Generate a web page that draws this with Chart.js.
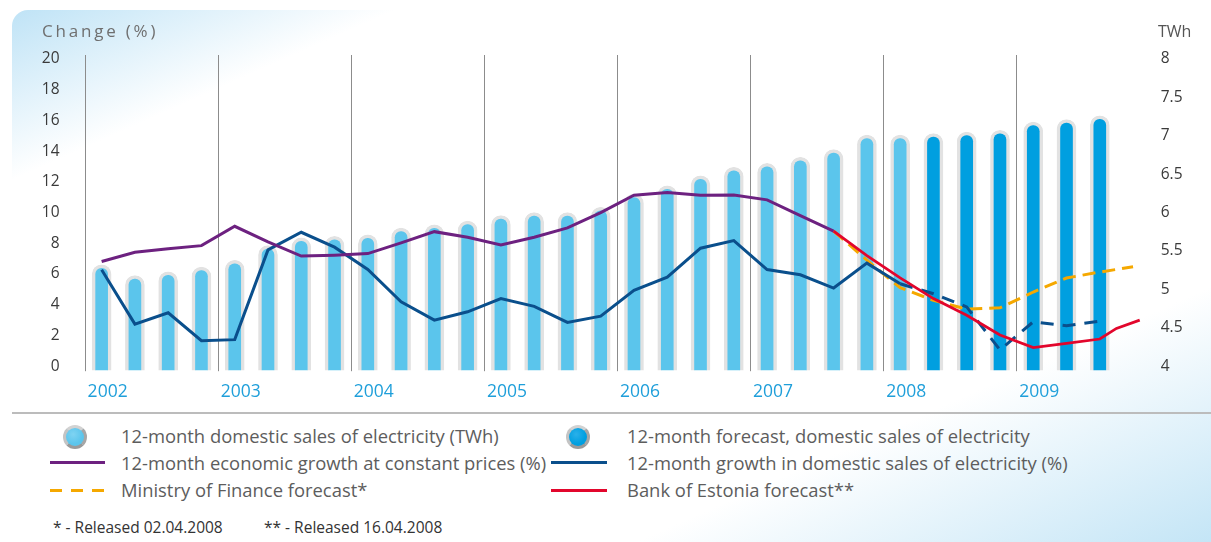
<!DOCTYPE html>
<html>
<head>
<meta charset="utf-8">
<script src="https://cdn.jsdelivr.net/npm/chart.js@4.4.1/dist/chart.umd.min.js"></script>
<style>
  html, body { margin: 0; padding: 0; }
  body {
    width: 1211px; height: 542px; overflow: hidden; position: relative;
    background: #fff; font-family: 'Open Sans', sans-serif;
  }
  .panel {
    position: absolute; left: 12px; top: 10px; right: 0; bottom: 0;
    border-top-left-radius: 16px;
    background: linear-gradient(to bottom right, #bfe3f6 0%, #ffffff 16%, #ffffff 76%, #c4e5f6 100%);
  }
  #chart { position: absolute; left: 0; top: 0; }
  .axis-title { position: absolute; top: 19px; font-size: 17px; color: #6f6f6f; line-height: 24px; }
  .rule { position: absolute; left: 12px; right: 0; top: 412px; height: 2px; background: #bcbcbc; }
  .legend-text { position: absolute; font-size: 18.4px; color: #5d5d5d; line-height: 24px; white-space: nowrap; }
  .note { position: absolute; top: 516px; font-size: 15.5px; color: #333; line-height: 22px; white-space: nowrap; }
  .dot {
    position: absolute; width: 18px; height: 18px; border-radius: 50%;
    border: 3px solid #b8b8b8; border-color: #d2d2d2 #a6a6a6 #9a9a9a #c4c4c4;
  }
  .swatch { position: absolute; height: 3px; }
</style>
</head>
<body>
<div class="panel"></div>
<canvas id="chart" width="1211" height="405"></canvas>
<div class="axis-title" style="left:42px; letter-spacing:2.8px;">Change (%)</div>
<div class="axis-title" style="left:1158px; color:#555; font-size:16px;">TWh</div>
<div class="rule"></div>

<div class="dot" style="left:63px; top:425px; background:radial-gradient(circle at 40% 35%, #7fd3f2, #5bc5ec 60%);"></div>
<div class="legend-text" style="left:121px; top:424px;">12-month domestic sales of electricity (TWh)</div>
<div class="swatch" style="left:50px; width:55px; top:461px; background:#6d2180;"></div>
<div class="legend-text" style="left:121px; top:451px;">12-month economic growth at constant prices (%)</div>
<div class="swatch" style="left:50px; width:54px; top:489px; background:repeating-linear-gradient(90deg, #f5a800 0 12px, transparent 12px 21px);"></div>
<div class="legend-text" style="left:121px; top:478px;">Ministry of Finance forecast*</div>

<div class="dot" style="left:566px; top:425px; background:radial-gradient(circle at 40% 35%, #2ab0ea, #009fe0 60%);"></div>
<div class="legend-text" style="left:627px; top:424px;">12-month forecast, domestic sales of electricity</div>
<div class="swatch" style="left:551px; width:56px; top:461px; background:#0a4f8c;"></div>
<div class="legend-text" style="left:627px; top:451px;">12-month growth in domestic sales of electricity (%)</div>
<div class="swatch" style="left:551px; width:56px; top:489px; background:#e2062c;"></div>
<div class="legend-text" style="left:627px; top:478px;">Bank of Estonia forecast**</div>

<div class="note" style="left:53px;">* - Released 02.04.2008</div>
<div class="note" style="left:264px;">** - Released 16.04.2008</div>

<script>
// quarters 2002 Q1 .. 2009 Q4
const years = [2002, 2003, 2004, 2005, 2006, 2007, 2008, 2009];
const quarterNames = ['Q1', 'Q2', 'Q3', 'Q4'];
const changeTicks = [0, 2, 4, 6, 8, 10, 12, 14, 16, 18, 20];
const twhTicks = [4, 4.5, 5, 5.5, 6, 6.5, 7, 7.5, 8];

// 12-month domestic sales of electricity, TWh (2002 Q1 .. 2008 Q1)
const salesTWh = [5.32, 5.18, 5.23, 5.29, 5.38, 5.57, 5.67, 5.69, 5.71, 5.80, 5.84, 5.89,
  5.96, 6.00, 6.00, 6.07, 6.24, 6.35, 6.48, 6.59, 6.64, 6.72, 6.82, 7.01, 7.01];
// forecast, TWh (2008 Q2 .. 2009 Q3)
const forecastTWh = [7.03, 7.05, 7.07, 7.18, 7.21, 7.26];

// 12-month economic growth, % (2002 Q1 .. 2007 Q3)
const gdpGrowth = [6.82, 7.42, 7.64, 7.85, 9.11, 8.1, 7.17, 7.23, 7.33, 8.03, 8.76, 8.4,
  7.9, 8.4, 9.0, 10.0, 11.13, 11.31, 11.13, 11.15, 10.83, 9.8, 8.8];
// growth in domestic electricity sales, % (2002 Q1 .. 2008 Q1), then forecast to 2009 Q3
const salesGrowth = [6.28, 2.74, 3.48, 1.66, 1.73, 7.57, 8.72, 7.75, 6.3, 4.19, 3.0, 3.54,
  4.40, 3.90, 2.85, 3.26, 4.94, 5.80, 7.68, 8.18, 6.29, 5.95, 5.09, 6.71, 5.37];
const salesGrowthForecast = [5.37, 4.72, 3.86, 1.06, 2.89, 2.63, 2.93];
// Ministry of Finance forecast, % (2007 Q3 .. 2009 Q4)
const financeForecast = [8.8, 6.9, 5.11, 4.29, 3.71, 3.80, 4.83, 5.74, 6.13, 6.47];
// Bank of Estonia forecast, % — quarter index (0 = 2002 Q1) and value
const bankQuarter = [22, 23, 24, 25, 26, 27, 28, 29, 30, 30.5, 31.2];
const bankForecast = [8.8, 7.2, 5.75, 4.40, 3.32, 2.03, 1.21, 1.49, 1.77, 2.46, 3.0];

const labels = years.flatMap(y => quarterNames.map(q => `${y} ${q}`));
const series = (start, values) =>
  labels.map((_, i) => (i >= start && i < start + values.length ? values[i - start] : null));

const font = (size) => ({ family: "'Open Sans', sans-serif", size });

const barStyle = {
  yAxisID: 'y1',
  borderColor: '#e2e2e2',
  borderWidth: 3.5,
  borderSkipped: false,
  borderRadius: 10,
  barThickness: 19,
  grouped: false,
  order: 3,
};

const lineStyle = {
  type: 'line',
  yAxisID: 'y',
  pointRadius: 0,
  borderWidth: 3,
  fill: false,
  tension: 0,
  order: 1,
};

new Chart(document.getElementById('chart'), {
  type: 'bar',
  data: {
    labels,
    datasets: [
      { ...barStyle, label: '12-month domestic sales of electricity (TWh)',
        data: series(0, salesTWh), backgroundColor: '#5bc5ec' },
      { ...barStyle, label: '12-month forecast, domestic sales of electricity',
        data: series(salesTWh.length, forecastTWh), backgroundColor: '#009fe0' },
      { ...lineStyle, label: '12-month economic growth at constant prices (%)',
        data: series(0, gdpGrowth), borderColor: '#6d2180' },
      { ...lineStyle, label: '12-month growth in domestic sales of electricity (%)',
        data: series(0, salesGrowth), borderColor: '#0a4f8c' },
      { ...lineStyle, label: 'forecast growth in domestic sales of electricity (%)',
        data: series(24, salesGrowthForecast), borderColor: '#0a4f8c', borderDash: [13, 9] },
      { ...lineStyle, label: 'Ministry of Finance forecast*',
        data: series(22, financeForecast), borderColor: '#f5a800', borderDash: [13, 7] },
      { ...lineStyle, label: 'Bank of Estonia forecast**', xAxisID: 'x2', order: 0,
        data: bankQuarter.map((q, i) => ({ x: q, y: bankForecast[i] })),
        borderColor: '#e2062c', borderWidth: 2.8 },
    ],
  },
  options: {
    responsive: false,
    animation: false,
    devicePixelRatio: 1,
    layout: { padding: { top: 55, left: 0, right: 0, bottom: 0 } },
    plugins: { legend: { display: false }, tooltip: { enabled: false } },
    scales: {
      x: {
        border: { display: false },
        grid: {
          // only year boundaries get a divider
          color: (c) => (c.type === 'tick' && c.index % 4 === 0 ? '#8c8c8c' : 'rgba(0,0,0,0)'),
          lineWidth: 1,
          tickLength: 1,
        },
        ticks: {
          autoSkip: false,
          maxRotation: 0,
          padding: 10,
          labelOffset: 6,
          color: '#1f9fda',
          font: font(17.5),
          callback: (v, i) => (i % 4 === 0 ? String(years[i / 4]) : ''),
        },
        afterFit: (s) => { s.height = 33; },
      },
      // same quarter positions as the category axis, for points between quarters
      x2: { type: 'linear', display: false, offset: false, grid: { offset: false }, min: -0.5, max: 31.5 },
      y: {
        position: 'left',
        min: -0.26,
        max: 20.26,
        border: { display: false },
        grid: { display: false, drawTicks: false },
        ticks: { padding: 25.5, color: '#3a3a3a', font: font(15.5), callback: (v) => String(v) },
        afterBuildTicks: (s) => { s.ticks = changeTicks.map(value => ({ value })); },
        afterFit: (s) => { s.width = 85; },
      },
      y1: {
        position: 'right',
        min: 3.948,
        max: 8.052,
        border: { display: false },
        grid: { display: false, drawTicks: false },
        ticks: { padding: 11, color: '#3a3a3a', font: font(15.5), callback: (v) => String(v) },
        afterBuildTicks: (s) => { s.ticks = twhTicks.map(value => ({ value })); },
        afterFit: (s) => { s.width = 61.3; },
      },
    },
  },
});
</script>
</body>
</html>
